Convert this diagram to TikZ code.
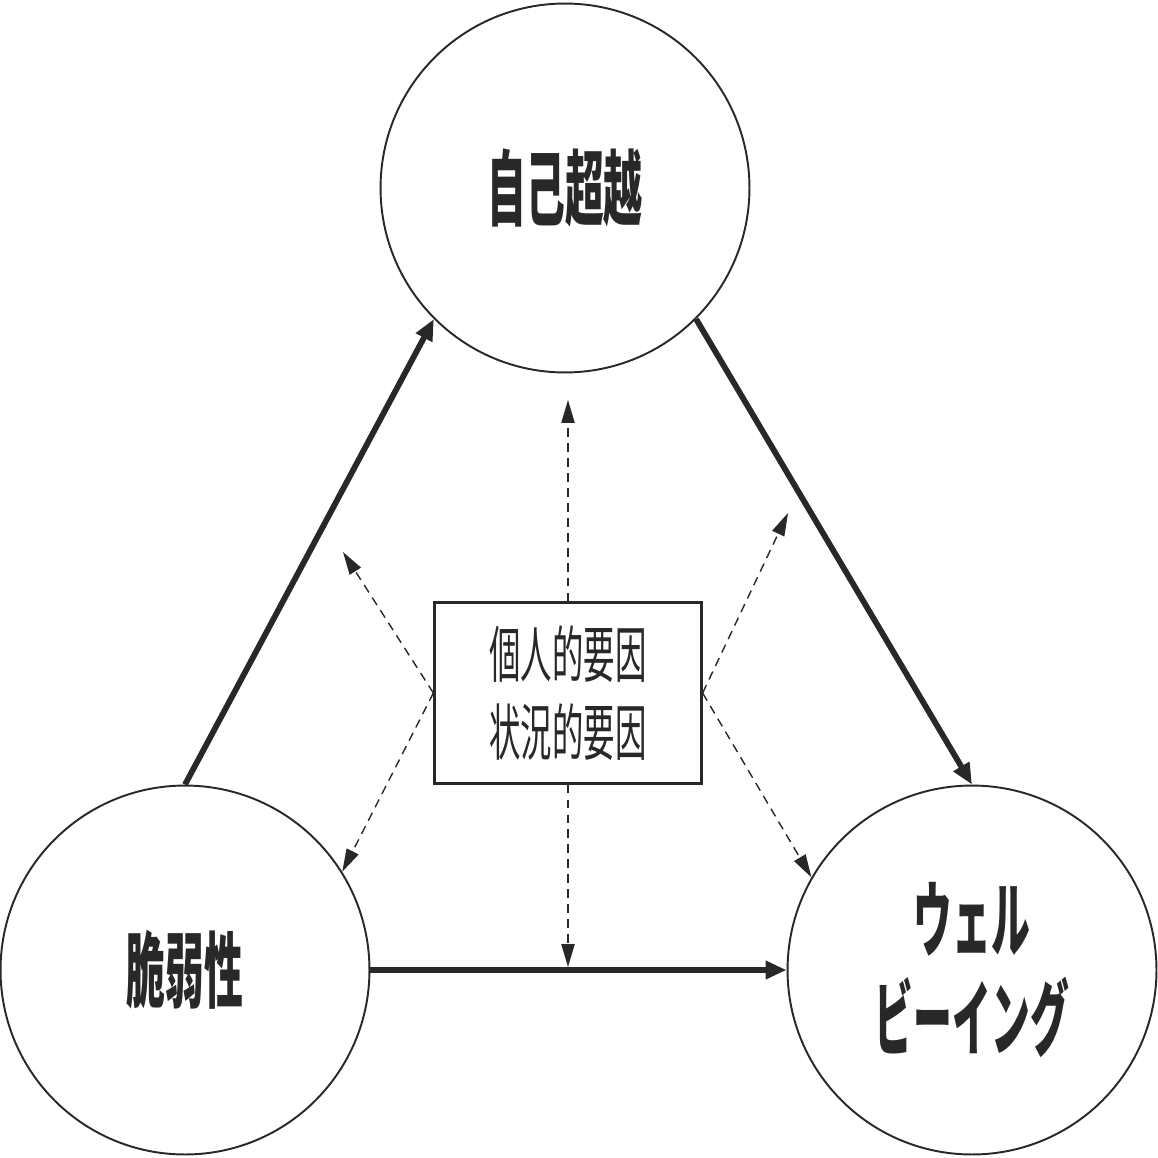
\documentclass[tikz,border=0pt]{standalone}
\usepackage{fontspec}
\usetikzlibrary{arrows.meta,positioning,calc}
\newfontfamily\labelfont[FakeStretch=0.47]{Noto Sans CJK JP}
\newfontfamily\factorfont[FakeStretch=0.51]{Noto Sans CJK JP}
\definecolor{inkcol}{RGB}{40,40,40}

\begin{document}
\begin{tikzpicture}[
    x=0.02cm, y=-0.02cm,
    concept/.style={draw=inkcol, circle, line width=1.1pt, minimum size=7.38cm, inner sep=0pt,
                    font=\labelfont\bfseries\fontsize{47}{56}\selectfont, text=inkcol, align=center},
    factorbox/.style={draw=inkcol, line width=1.3pt, minimum width=5.34cm, minimum height=3.62cm,
                      font=\factorfont\fontsize{35}{44}\selectfont, text=inkcol, align=center},
    mainarr/.style={-{Triangle[length=12pt, width=10pt]}, line width=3.3pt, color=inkcol},
    infl/.style={-{Triangle[length=13pt, width=7.5pt]}, line width=0.8pt, color=inkcol,
                 dash pattern=on 5pt off 3.5pt},
]
\useasboundingbox (0,0) rectangle (1158,1158);

% ============ CONCEPTS ============
\node[concept] (transc) at (565,188) {\raisebox{4pt}{自己超越}};
\node[concept] (vuln) at (185,970) {\raisebox{2pt}{脆弱性}};
\node[concept] (wellb) at (972,970) {ウェル\\ビーイング};

% ============ FACTORS (CENTRE) ============
\node[factorbox] (factors) at (568,693) {個人的要因\\状況的要因};

% free ends of the dashed arrows
\coordinate (ul) at (343,552);
\coordinate (ur) at (788,513);
\coordinate (up) at (568,400);
\coordinate (dn) at (568,967);

% ============ MAIN PATH ============
\draw[mainarr] (vuln.north) -- (transc.225);
\draw[mainarr] (transc.-45) -- (wellb.north);
\draw[mainarr] (vuln.east) -- (wellb.west);

% ============ MODERATING EFFECTS ============
\draw[infl] (factors.west) -- (ul);
\draw[infl] (factors.west) -- (vuln.32);
\draw[infl] (factors.east) -- (ur);
\draw[infl] (factors.east) -- (wellb.150);
\draw[infl] (factors.north) -- (up);
\draw[infl] (factors.south) -- (dn);

\end{tikzpicture}
\end{document}
